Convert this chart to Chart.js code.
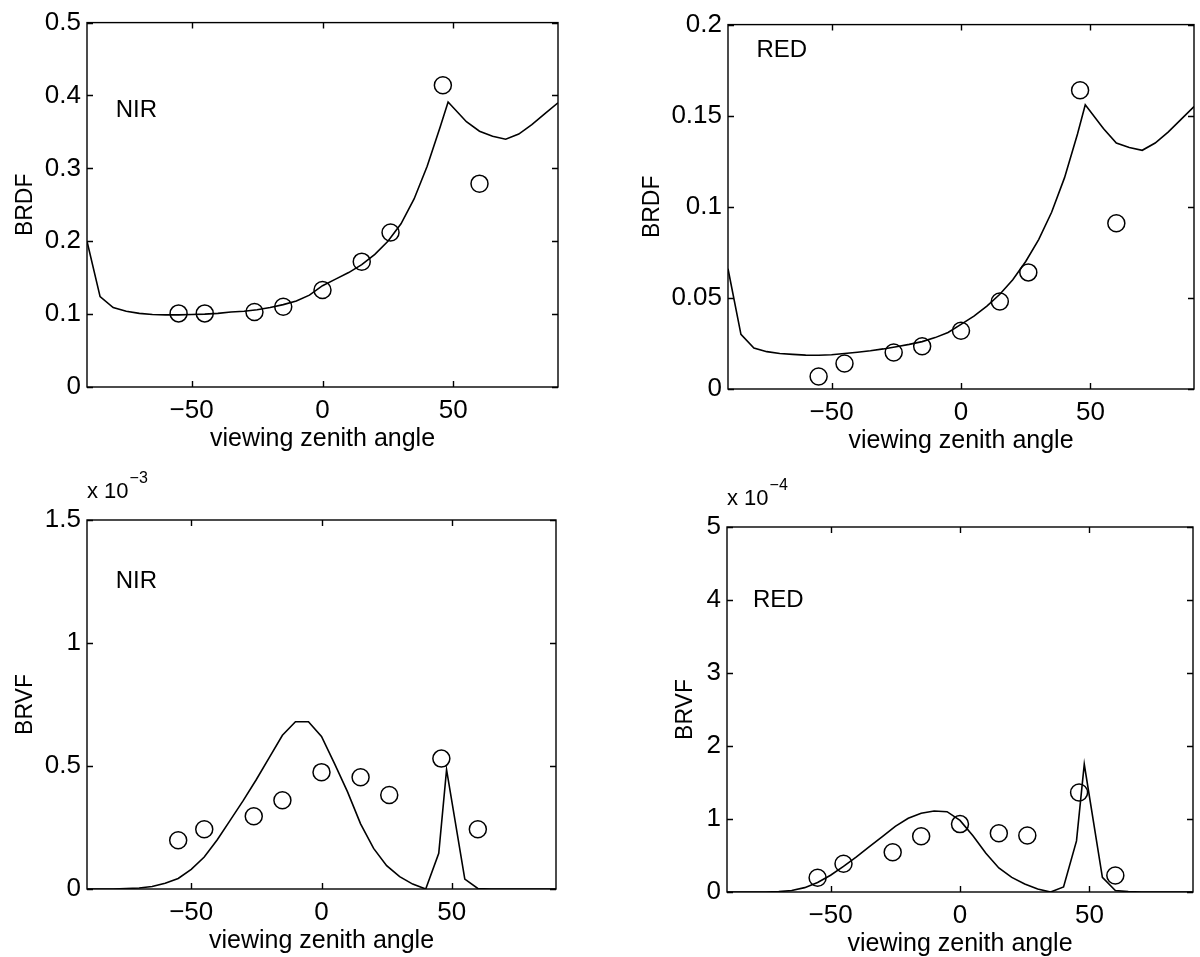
<!DOCTYPE html>
<html>
<head>
<meta charset="utf-8">
<script src="https://cdn.jsdelivr.net/npm/chart.js@4.4.1/dist/chart.umd.min.js"></script>
<style>
  body { margin: 0; background: #fff; width: 1200px; height: 957px; position: relative; overflow: hidden; }
  canvas { position: absolute; }
</style>
</head>
<body>
<canvas id="nirBrdf"></canvas>
<canvas id="redBrdf"></canvas>
<canvas id="nirBrvf"></canvas>
<canvas id="redBrvf"></canvas>
<script>
// model grid (viewing zenith angle, deg)
const modelAngles = [-90, -85, -80, -75, -70, -65, -60, -55, -50, -45, -40, -35, -30, -25, -20, -15, -10, -5,
  0, 5, 10, 15, 20, 25, 30, 35, 40, 45, 48, 55, 60, 65, 70, 75, 80, 85, 90];
// measured angles
const obsAngles = [-55, -45, -26, -15, 0, 15, 26, 46, 60];

const nirBrdfModel = [0.200, 0.124, 0.109, 0.104, 0.101, 0.0995, 0.099, 0.099, 0.0995, 0.100, 0.101, 0.103,
  0.104, 0.106, 0.109, 0.113, 0.118, 0.126, 0.139, 0.148, 0.157, 0.168, 0.182, 0.200, 0.224, 0.258, 0.303,
  0.357, 0.391, 0.364, 0.351, 0.344, 0.340, 0.347, 0.360, 0.375, 0.390];
const nirBrdfObs = [0.101, 0.101, 0.103, 0.110, 0.133, 0.172, 0.212, 0.414, 0.279];

const redBrdfModel = [0.066, 0.030, 0.0225, 0.0205, 0.0195, 0.019, 0.0186, 0.0185, 0.0188, 0.0195, 0.0202,
  0.021, 0.022, 0.0232, 0.0245, 0.026, 0.0282, 0.031, 0.0355, 0.040, 0.0455, 0.052, 0.060, 0.070, 0.082,
  0.097, 0.116, 0.140, 0.156, 0.143, 0.135, 0.1325, 0.131, 0.135, 0.141, 0.148, 0.155];
const redBrdfObs = [0.0069, 0.014, 0.020, 0.0235, 0.032, 0.048, 0.064, 0.164, 0.091];

const nirBrvfModel = [0, 0, 0, 0.002e-3, 0.004e-3, 0.01e-3, 0.023e-3, 0.043e-3, 0.08e-3, 0.13e-3, 0.2e-3,
  0.28e-3, 0.36e-3, 0.445e-3, 0.535e-3, 0.625e-3, 0.68e-3, 0.68e-3, 0.62e-3, 0.51e-3, 0.395e-3, 0.265e-3,
  0.165e-3, 0.095e-3, 0.05e-3, 0.02e-3, 0, 0.145e-3, 0.485e-3, 0.04e-3, 0.002e-3, 0, 0, 0, 0, 0, 0];
const nirBrvfObs = [0.198e-3, 0.243e-3, 0.296e-3, 0.361e-3, 0.475e-3, 0.454e-3, 0.382e-3, 0.530e-3, 0.243e-3];

const redBrvfModel = [0, 0, 0, 0, 0.005e-4, 0.02e-4, 0.06e-4, 0.13e-4, 0.23e-4, 0.35e-4, 0.48e-4, 0.62e-4,
  0.76e-4, 0.9e-4, 1.01e-4, 1.08e-4, 1.11e-4, 1.1e-4, 0.98e-4, 0.77e-4, 0.53e-4, 0.33e-4, 0.2e-4, 0.11e-4,
  0.04e-4, 0, 0.07e-4, 0.7e-4, 1.75e-4, 0.2e-4, 0.02e-4, 0.005e-4, 0, 0, 0, 0, 0];
const redBrvfObs = [0.195e-4, 0.386e-4, 0.545e-4, 0.764e-4, 0.93e-4, 0.805e-4, 0.773e-4, 1.364e-4, 0.227e-4];

// tick labels
const xTicks = [-50, 0, 50];
const nirBrdfTicks = [0, 0.1, 0.2, 0.3, 0.4, 0.5];
const redBrdfTicks = [0, 0.05, 0.1, 0.15, 0.2];
const nirBrvfTicks = [0, 0.5e-3, 1e-3, 1.5e-3];
const redBrvfTicks = [0, 1e-4, 2e-4, 3e-4, 4e-4, 5e-4];

const FONT = '"Liberation Sans", Arial, Helvetica, sans-serif';
const YW = 90, PR = 12, XH = 72;

// box, tick marks, band name and exponent note
const framePlugin = {
  id: "frame",
  afterDraw(chart, args, opts) {
    const { ctx, chartArea: a } = chart;
    const x = chart.scales.x, y = chart.scales.y;
    ctx.save();
    ctx.strokeStyle = "#000";
    ctx.lineWidth = 1.4;
    ctx.strokeRect(a.left, a.top, a.right - a.left, a.bottom - a.top);
    ctx.beginPath();
    x.ticks.forEach((t) => {
      const px = Math.round(x.getPixelForValue(t.value)) + 0.5;
      ctx.moveTo(px, a.bottom); ctx.lineTo(px, a.bottom - 6);
      ctx.moveTo(px, a.top); ctx.lineTo(px, a.top + 6);
    });
    y.ticks.forEach((t) => {
      const py = Math.round(y.getPixelForValue(t.value)) + 0.5;
      ctx.moveTo(a.left, py); ctx.lineTo(a.left + 6, py);
      ctx.moveTo(a.right, py); ctx.lineTo(a.right - 6, py);
    });
    ctx.stroke();

    ctx.fillStyle = "#000";
    ctx.textAlign = "left";
    ctx.textBaseline = "middle";
    ctx.font = "24px " + FONT;
    ctx.fillText(opts.band, x.getPixelForValue(opts.bandAt[0]), y.getPixelForValue(opts.bandAt[1]));

    if (opts.exponent) {
      ctx.font = "22px " + FONT;
      const base = "x 10";
      ctx.fillText(base, a.left, a.top - 28);
      const w = ctx.measureText(base).width;
      ctx.font = "16px " + FONT;
      ctx.fillText(opts.exponent, a.left + w + 1, a.top - 41);
    }
    ctx.restore();
  },
};

function fmtAngle(v) {
  return v < 0 ? "\u2212" + Math.abs(v) : String(v);
}

function drawPanel(p) {
  const canvas = document.getElementById(p.id);
  const [L, T, R, B] = p.box;
  const w = R - L + YW + PR;
  const h = B - T + p.padTop + XH;
  canvas.width = w;
  canvas.height = h;
  canvas.style.left = (L - YW) + "px";
  canvas.style.top = (T - p.padTop) + "px";

  const tickFont = { family: FONT, size: 26 };
  const modelPts = modelAngles.map((a, i) => ({ x: a, y: p.model[i] }));
  const obsPts = obsAngles.map((a, i) => ({ x: a, y: p.obs[i] }));

  new Chart(canvas.getContext("2d"), {
    type: "line",
    data: {
      datasets: [
        {
          data: modelPts,
          borderColor: "#000",
          borderWidth: 1.6,
          pointRadius: 0,
          tension: 0,
          fill: false,
        },
        {
          data: obsPts,
          showLine: false,
          pointStyle: "circle",
          pointRadius: 8.5,
          pointBorderWidth: 1.5,
          pointBorderColor: "#000",
          pointBackgroundColor: "rgba(0,0,0,0)",
        },
      ],
    },
    options: {
      responsive: false,
      animation: false,
      devicePixelRatio: 1,
      layout: { padding: { top: p.padTop, right: PR, left: 0, bottom: 0 } },
      plugins: {
        legend: { display: false },
        tooltip: { enabled: false },
        frame: { band: p.band, bandAt: p.bandAt, exponent: p.exponent },
      },
      scales: {
        x: {
          type: "linear",
          min: -90,
          max: 90,
          afterBuildTicks: (s) => { s.ticks = xTicks.map((v) => ({ value: v })); },
          afterFit: (s) => { s.height = XH; },
          grid: { display: false, drawTicks: false },
          border: { display: false },
          ticks: { font: tickFont, color: "#000", padding: 8, maxRotation: 0, callback: (v) => fmtAngle(v) },
          title: { display: true, text: "viewing zenith angle", font: { family: FONT, size: 25 }, color: "#000", padding: { top: 0, bottom: 5 } },
        },
        y: {
          type: "linear",
          min: p.yTicks[0],
          max: p.yTicks[p.yTicks.length - 1],
          afterBuildTicks: (s) => { s.ticks = p.yTicks.map((v) => ({ value: v })); },
          afterFit: (s) => { s.width = YW; },
          grid: { display: false, drawTicks: false },
          border: { display: false },
          ticks: { font: tickFont, color: "#000", padding: 6, callback: (v) => String(parseFloat((v / p.unit).toFixed(3))) },
          title: { display: true, text: p.yTitle, font: { family: FONT, size: 23 }, color: "#000", padding: { top: p.titleGap, bottom: 0 } },
        },
      },
    },
    plugins: [framePlugin],
  });
}

const panels = [
  { id: "nirBrdf", box: [87, 19, 558, 387], padTop: 18, model: nirBrdfModel, obs: nirBrdfObs, yTicks: nirBrdfTicks,
    unit: 1, yTitle: "BRDF", titleGap: 15, band: "NIR", bandAt: [-79, 0.38] },
  { id: "redBrdf", box: [728, 21, 1194, 389], padTop: 18, model: redBrdfModel, obs: redBrdfObs, yTicks: redBrdfTicks,
    unit: 1, yTitle: "BRDF", titleGap: 1, band: "RED", bandAt: [-79, 0.186] },
  { id: "nirBrvf", box: [87, 520, 556, 889], padTop: 56, model: nirBrvfModel, obs: nirBrvfObs, yTicks: nirBrvfTicks,
    unit: 1e-3, yTitle: "BRVF", titleGap: 15, band: "NIR", bandAt: [-79, 1.25e-3], exponent: "\u22123" },
  { id: "redBrvf", box: [727, 527, 1193, 892], padTop: 56, model: redBrvfModel, obs: redBrvfObs, yTicks: redBrvfTicks,
    unit: 1e-4, yTitle: "BRVF", titleGap: 35, band: "RED", bandAt: [-80, 4.0e-4], exponent: "\u22124" },
];

panels.forEach(drawPanel);
</script>
</body>
</html>
